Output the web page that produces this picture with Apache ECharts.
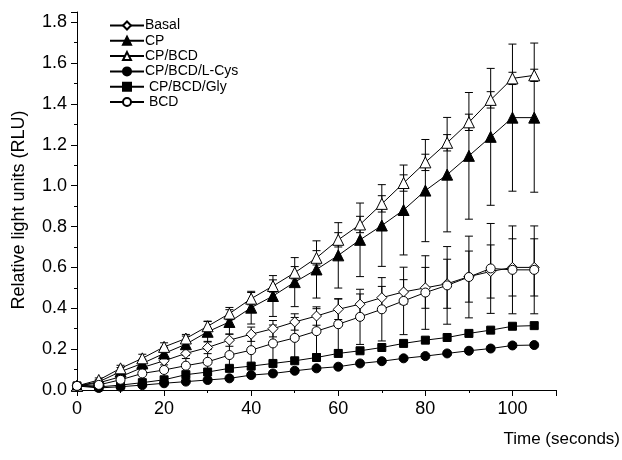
<!DOCTYPE html>
<html>
<head>
<meta charset="utf-8">
<script src="https://cdn.jsdelivr.net/npm/echarts@6/dist/echarts.min.js"></script>
<style>
  html, body { margin: 0; padding: 0; background: #fff; }
  #chart { width: 622px; height: 460px; }
</style>
</head>
<body>
<div id="chart"></div>
<script>
// Sampling times (s)
const time = [0, 5, 10, 15, 20, 25, 30, 35, 40, 45, 50, 55, 60, 65, 70, 75, 80, 85, 90, 95, 100, 105];

// Mean luminescence (RLU) per condition
const basal  = [0.02, 0.035, 0.065, 0.11, 0.143, 0.179, 0.208, 0.244, 0.273, 0.30, 0.333, 0.362, 0.395, 0.42, 0.452, 0.48, 0.50, 0.52, 0.555, 0.58, 0.60, 0.60];
const cp     = [0.02, 0.04, 0.09, 0.13, 0.179, 0.224, 0.285, 0.333, 0.403, 0.46, 0.528, 0.59, 0.659, 0.735, 0.805, 0.881, 0.976, 1.054, 1.146, 1.239, 1.333, 1.333];
const cpBcd  = [0.02, 0.049, 0.106, 0.155, 0.211, 0.252, 0.312, 0.374, 0.447, 0.509, 0.574, 0.647, 0.735, 0.81, 0.911, 1.013, 1.114, 1.21, 1.31, 1.42, 1.525, 1.54];
const cpBcdCys = [0.02, 0.01, 0.016, 0.024, 0.033, 0.041, 0.049, 0.057, 0.073, 0.081, 0.094, 0.106, 0.114, 0.13, 0.141, 0.155, 0.166, 0.179, 0.192, 0.203, 0.218, 0.22];
const cpBcdGly = [0.02, 0.015, 0.024, 0.036, 0.05, 0.075, 0.088, 0.106, 0.117, 0.13, 0.143, 0.159, 0.179, 0.192, 0.208, 0.228, 0.244, 0.257, 0.277, 0.293, 0.312, 0.315];
const bcd    = [0.02, 0.025, 0.05, 0.081, 0.098, 0.119, 0.138, 0.171, 0.195, 0.228, 0.255, 0.288, 0.322, 0.358, 0.395, 0.436, 0.477, 0.512, 0.553, 0.595, 0.588, 0.588];

// Error (± half-range) per condition
const basalErr  = [0.005, 0.01, 0.015, 0.02, 0.02, 0.025, 0.03, 0.03, 0.035, 0.04, 0.04, 0.045, 0.05, 0.05, 0.055, 0.06, 0.1, 0.12, 0.125, 0.13, 0.14, 0.14];
const cpErr     = [0.005, 0.01, 0.02, 0.02, 0.03, 0.04, 0.05, 0.06, 0.08, 0.10, 0.12, 0.14, 0.16, 0.18, 0.20, 0.22, 0.25, 0.28, 0.31, 0.335, 0.36, 0.365];
const cpBcdErr  = [0.005, 0.01, 0.015, 0.02, 0.02, 0.02, 0.025, 0.03, 0.03, 0.03, 0.03, 0.035, 0.035, 0.04, 0.04, 0.04, 0.04, 0.04, 0.04, 0.04, 0.03, 0.03];
const cpBcdCysErr = [0.005, 0.005, 0.005, 0.005, 0.005, 0.005, 0.005, 0.005, 0.008, 0.008, 0.008, 0.008, 0.008, 0.008, 0.008, 0.008, 0.01, 0.01, 0.01, 0.01, 0.01, 0.01];
const cpBcdGlyErr = [0.005, 0.005, 0.005, 0.005, 0.008, 0.008, 0.008, 0.008, 0.01, 0.01, 0.01, 0.01, 0.01, 0.01, 0.01, 0.01, 0.012, 0.012, 0.012, 0.012, 0.012, 0.012];
const bcdErr    = [0.005, 0.01, 0.02, 0.03, 0.04, 0.05, 0.06, 0.07, 0.08, 0.09, 0.1, 0.11, 0.125, 0.135, 0.155, 0.165, 0.18, 0.19, 0.2, 0.22, 0.215, 0.215];

// Axis tick values
const xTicks = [0, 20, 40, 60, 80, 100];
const yTicks = [0.0, 0.2, 0.4, 0.6, 0.8, 1.0, 1.2, 1.4, 1.6, 1.8];

const FONT = '"Liberation Sans", Arial, sans-serif';

const groups = [
  { name: 'Basal',          y: basal,    e: basalErr,    symbol: 'diamond',  size: 10, fill: '#fff' },
  { name: 'CP',             y: cp,       e: cpErr,       symbol: 'triangle', size: 11, fill: '#000' },
  { name: 'CP/BCD',         y: cpBcd,    e: cpBcdErr,    symbol: 'triangle', size: 11, fill: '#fff' },
  { name: 'CP/BCD/L-Cys',   y: cpBcdCys, e: cpBcdCysErr, symbol: 'circle',   size: 9,  fill: '#000' },
  { name: ' CP/BCD/Gly',    y: cpBcdGly, e: cpBcdGlyErr, symbol: 'rect',     size: 8,  fill: '#000' },
  { name: ' BCD',           y: bcd,      e: bcdErr,      symbol: 'circle',   size: 9,  fill: '#fff' }
];

const series = [];

// Error bars drawn first so the open markers cover them
groups.forEach(g => {
  series.push({
    type: 'custom',
    name: g.name + ' err',
    silent: true,
    z: 1,
    data: time.map((t, i) => [t, g.y[i], g.e[i]]),
    renderItem: function (params, api) {
      const x = api.value(0), y = api.value(1), e = api.value(2);
      const hi = api.coord([x, y + e]);
      const lo = api.coord([x, y - e]);
      const cap = 4;
      const st = { stroke: '#000', lineWidth: 1 };
      return {
        type: 'group',
        children: [
          { type: 'line', shape: { x1: hi[0], y1: hi[1], x2: lo[0], y2: lo[1] }, style: st },
          { type: 'line', shape: { x1: hi[0] - cap, y1: hi[1], x2: hi[0] + cap, y2: hi[1] }, style: st },
          { type: 'line', shape: { x1: lo[0] - cap, y1: lo[1], x2: lo[0] + cap, y2: lo[1] }, style: st }
        ]
      };
    }
  });
});

groups.forEach(g => {
  series.push({
    type: 'line',
    name: g.name,
    z: 3,
    data: time.map((t, i) => [t, g.y[i]]),
    symbol: g.symbol,
    symbolSize: g.size,
    showAllSymbol: true,
    lineStyle: { color: '#000', width: 1 },
    itemStyle: { color: g.fill, borderColor: '#000', borderWidth: 1 }
  });
});

const chart = echarts.init(document.getElementById('chart'), null, { renderer: 'canvas' });
chart.setOption({
  animation: false,
  backgroundColor: '#fff',
  grid: { left: 77, right: 66, top: 12, bottom: 70, containLabel: false },
  legend: {
    orient: 'vertical',
    left: 109,
    top: 18,
    itemWidth: 34,
    itemHeight: 10,
    itemGap: 0.3,
    padding: 0,
    data: groups.map(g => g.name),
    textStyle: { fontFamily: FONT, fontSize: 14, lineHeight: 15, color: '#000', padding: [0, 0, 0, -4] }
  },
  xAxis: {
    type: 'value',
    min: 0,
    max: 110,
    interval: 20,
    axisLine: { lineStyle: { color: '#000', width: 1 } },
    axisTick: { inside: false, length: 6, lineStyle: { color: '#000' } },
    minorTick: { show: true, splitNumber: 2, length: 3, lineStyle: { color: '#000' } },
    splitLine: { show: false },
    axisLabel: {
      showMaxLabel: false,
      color: '#000', fontFamily: FONT, fontSize: 18, margin: 10,
      formatter: v => (xTicks.indexOf(v) >= 0 ? String(v) : '')
    }
  },
  yAxis: {
    type: 'value',
    min: 0,
    max: 1.85,
    interval: 0.2,
    axisLine: { show: true, lineStyle: { color: '#000', width: 1 } },
    axisTick: { show: true, inside: false, length: 6, lineStyle: { color: '#000' } },
    minorTick: { show: true, splitNumber: 2, length: 3, lineStyle: { color: '#000' } },
    splitLine: { show: false },
    axisLabel: {
      showMaxLabel: false,
      color: '#000', fontFamily: FONT, fontSize: 18, margin: 10,
      formatter: v => {
        const r = Math.round(v * 10) / 10;
        return yTicks.some(t => Math.abs(t - r) < 1e-9) && Math.abs(v - r) < 1e-9 ? r.toFixed(1) : '';
      }
    }
  },
  graphic: [
    {
      type: 'text',
      x: 19,
      y: 210,
      rotation: Math.PI / 2,
      style: { text: 'Relative light units (RLU)', fill: '#000', font: '18px ' + FONT, align: 'center', verticalAlign: 'middle' }
    },
    {
      type: 'text',
      right: 2,
      top: 431,
      style: { text: 'Time (seconds)', fill: '#000', font: '17px ' + FONT }
    }
  ],
  series: series
});
</script>
</body>
</html>
